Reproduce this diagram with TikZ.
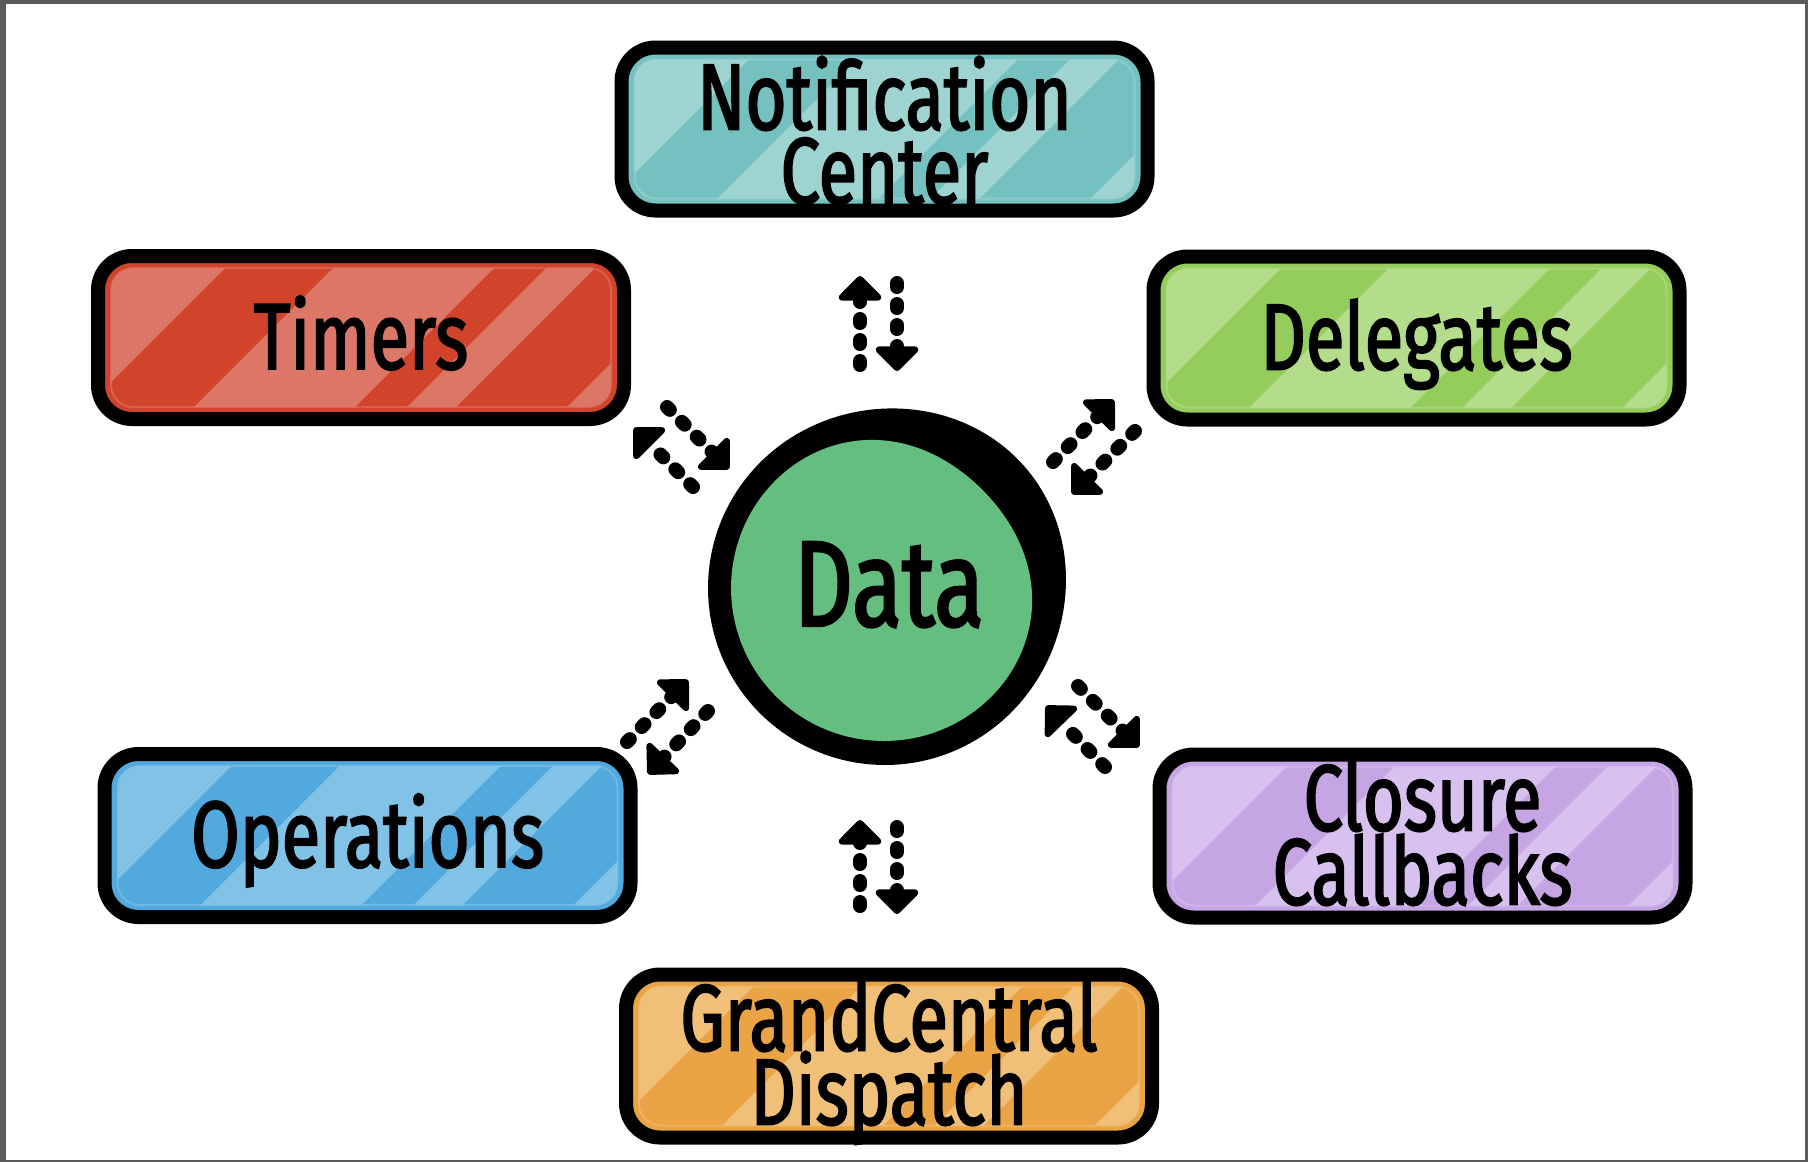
\documentclass[tikz,border=0pt]{standalone}
\usepackage{fontspec}
\setmainfont{Fira Sans}
\newfontfamily\handfont{Fira Sans}[FakeStretch=0.75, FakeBold=2]
\newcommand\boxfont{\handfont\fontsize{47pt}{37pt}\selectfont\lineskiplimit=-100pt}
\newcommand\datafont{\handfont\fontsize{61pt}{61pt}\selectfont}
\usetikzlibrary{arrows.meta}

\definecolor{framegray}{HTML}{5B5B5B}
\definecolor{tealbase}{HTML}{74C1BF}\definecolor{teallight}{HTML}{9DD4D2}
\definecolor{redbase}{HTML}{D1432B}\definecolor{redlight}{HTML}{DC7666}
\definecolor{greenbase}{HTML}{94CD5B}\definecolor{greenlight}{HTML}{B4DD8B}
\definecolor{bluebase}{HTML}{52A9DD}\definecolor{bluelight}{HTML}{80C3E7}
\definecolor{purplebase}{HTML}{C6A5E5}\definecolor{purplelight}{HTML}{D8C1EF}
\definecolor{orangebase}{HTML}{EAA345}\definecolor{orangelight}{HTML}{F0BF78}
\definecolor{datagreen}{HTML}{63BE7F}

\tikzset{
  labelbox/.style={rectangle, rounded corners=17pt, minimum width=263pt,
    minimum height=81.5pt, inner sep=0pt, outer sep=0pt,
    text depth=0pt, align=center, font=\boxfont, draw=black, line width=7pt},
  oneline/.style={text height=31.5pt},
  twoline/.style={text height=68.5pt},
  twolinelow/.style={text height=74.5pt},
  boxfill/.style={rounded corners=17pt},
  rim/.style={line width=1pt, rounded corners=11pt, opacity=0.6},
  flow/.style={line width=7pt, line cap=round, dash pattern=on 2pt off 8.5pt,
    -{Triangle[width=25pt, length=13pt, round]}},
}

% one diagonal light band: centre x, centre y, start, end (in x+y from inner top-left)
\newcommand\stband[4]{%
  \fill ({#1-256+#3},{#2-75.5}) -- ({#1-256+#4},{#2-75.5}) --
        ({#1-456+#4},{#2+124.5}) -- ({#1-456+#3},{#2+124.5}) -- cycle;}

% name, centre x, centre y, base colour, light colour, line style, text
\newcommand\stripedbox[7]{%
  \fill[boxfill, #4] ({#2-263},{#3-81.5}) rectangle ({#2+263},{#3+81.5});
  \begin{scope}
    \clip[rounded corners=11pt] ({#2-250},{#3-69.5}) rectangle ({#2+250},{#3+69.5});
    \begin{scope}[fill=#5]
      \stband{#2}{#3}{-300}{126}
      \stband{#2}{#3}{234}{395}
      \stband{#2}{#3}{447}{496}
      \stband{#2}{#3}{607}{1000}
    \end{scope}
  \end{scope}
  \draw[rim, #5] ({#2-250},{#3-69.5}) rectangle ({#2+250},{#3+69.5});
  \node[labelbox, #6] (#1) at (#2,#3) {#7};
}

\begin{document}
\begin{tikzpicture}[x=0.5pt, y=-0.5pt]
  \useasboundingbox (0,0) rectangle (1808,1162);
  \fill[framegray] (0,0) rectangle (1808,1162);
  \fill[white] (6,4) rectangle (1805,1160);

  % boxes
  \stripedbox{notif}{884.5}{129}{tealbase}{teallight}{twolinelow}{Notification\\Center}
  \stripedbox{timers}{361}{337.5}{redbase}{redlight}{oneline}{Timers}
  \stripedbox{deleg}{1416.5}{338}{greenbase}{greenlight}{oneline}{Delegates}
  \stripedbox{oper}{367.5}{835.5}{bluebase}{bluelight}{oneline}{Operations}
  \stripedbox{closure}{1422.5}{836}{purplebase}{purplelight}{twoline}{Closure\\Callbacks}
  \stripedbox{gcd}{889}{1056}{orangebase}{orangelight}{twoline}{GrandCentral\\Dispatch}

  % data circle
  \fill[black] plot[smooth cycle, domain=0:355, samples=72, variable=\t]
    ({885+(177+8*pow((1+cos(\t+40))/2,6))*cos(\t)},
     {588+(177+8*pow((1+cos(\t+40))/2,6))*sin(\t)});
  \fill[datagreen] plot[smooth cycle, domain=0:355, samples=72, variable=\t]
    ({884+(153-14*pow((1+cos(\t+45))/2,6))*cos(\t)},
     {588+(153-14*pow((1+cos(\t+45))/2,6))*sin(\t)});
  \node[circle, minimum size=178pt, inner sep=0pt, text height=42pt, text depth=0pt,
    font=\datafont] (data) at (889,584) {Data};

  % arrow end points
  \coordinate (nU1) at (860,365); \coordinate (nU2) at (860,276);
  \coordinate (nD1) at (897,283); \coordinate (nD2) at (897,371);
  \coordinate (gU1) at (860,906); \coordinate (gU2) at (860,820);
  \coordinate (gD1) at (897,827); \coordinate (gD2) at (897,914);
  \coordinate (tA1) at (693,487); \coordinate (tA2) at (634,428);
  \coordinate (tB1) at (667,407); \coordinate (tB2) at (729,469);
  \coordinate (dA1) at (1053,462); \coordinate (dA2) at (1114,400);
  \coordinate (dB1) at (1135,431); \coordinate (dB2) at (1072,494);
  \coordinate (oA1) at (627,742); \coordinate (oA2) at (688,680);
  \coordinate (oB1) at (708,711); \coordinate (oB2) at (648,774);
  \coordinate (cA1) at (1105,767); \coordinate (cA2) at (1046,706);
  \coordinate (cB1) at (1078,686); \coordinate (cB2) at (1139,747);

  \draw[flow] (nU1) -- (nU2);
  \draw[flow] (nD1) -- (nD2);
  \draw[flow] (gU1) -- (gU2);
  \draw[flow] (gD1) -- (gD2);
  \draw[flow] (tA1) -- (tA2);
  \draw[flow] (tB1) -- (tB2);
  \draw[flow] (dA1) -- (dA2);
  \draw[flow] (dB1) -- (dB2);
  \draw[flow] (oA1) -- (oA2);
  \draw[flow] (oB1) -- (oB2);
  \draw[flow] (cA1) -- (cA2);
  \draw[flow] (cB1) -- (cB2);
\end{tikzpicture}
\end{document}
